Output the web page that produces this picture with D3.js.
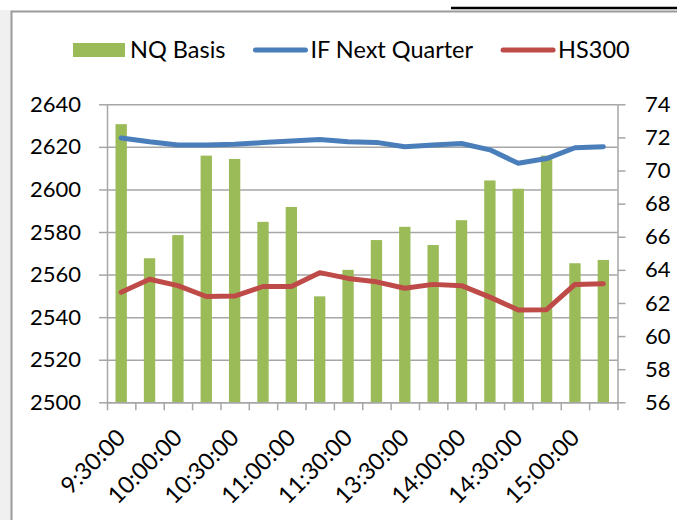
<!DOCTYPE html>
<meta charset="utf-8">
<style type="text/css">
    body { margin: 0; background: white; }
    svg text { font-family: Lato, "Open Sans", sans-serif; fill: black; }
    .grid line { stroke: #a6a6a6; stroke-width: 1.5; }
    .grid path { display: none; }
    .axis path, .axis line { stroke: #a6a6a6; stroke-width: 1.5; }
    .axis text { font-size: 22px; }
    .bar { fill: #9bbb59; }
</style>
<body>
<script src="https://cdn.jsdelivr.net/npm/d3@7"></script>
<script>
    // 15 minute snapshots, only every other one gets a label
    var times = ["9:30:00", "9:45:00", "10:00:00", "10:15:00", "10:30:00", "10:45:00",
                 "11:00:00", "11:15:00", "11:30:00", "13:15:00", "13:30:00", "13:45:00",
                 "14:00:00", "14:15:00", "14:30:00", "14:45:00", "15:00:00", "15:15:00"];

    var nqBasis = [72.8, 64.7, 66.1, 70.9, 70.7, 66.9, 67.8, 62.4, 64.0,
                   65.8, 66.6, 65.5, 67.0, 69.4, 68.9, 70.9, 64.4, 64.6];

    var ifNextQuarter = [2624.2, 2622.4, 2620.9, 2620.9, 2621.2, 2622.0, 2622.8, 2623.5, 2622.4,
                         2622.1, 2620.1, 2620.9, 2621.6, 2618.6, 2612.3, 2614.5, 2619.6, 2620.1];

    var hs300 = [2551.7, 2557.8, 2554.8, 2549.7, 2549.9, 2554.4, 2554.4, 2560.9, 2558.2,
                 2556.6, 2553.6, 2555.4, 2554.8, 2549.4, 2543.4, 2543.5, 2555.4, 2555.7];

    var leftTicks = [2500, 2520, 2540, 2560, 2580, 2600, 2620, 2640];
    var rightTicks = [56, 58, 60, 62, 64, 66, 68, 70, 72, 74];

    var seriesNames = ["NQ Basis", "IF Next Quarter", "HS300"];
    var seriesColors = ["#9bbb59", "#4a7ebb", "#be4b48"];

    var w = 677, h = 520;
    var plotLeft = 107, plotRight = 617.5, plotTop = 104.3, plotBottom = 402.3;

    var svg = d3.select("body").append("svg")
        .attr("width", w)
        .attr("height", h);

    // page bits around the chart frame
    svg.append("rect").attr("x", 0).attr("y", 10).attr("width", 11).attr("height", h).attr("fill", "#f0f0f0");
    svg.append("line").attr("x1", 451).attr("x2", w).attr("y1", 8).attr("y2", 8)
        .attr("stroke", "black").attr("stroke-width", 2.5);
    svg.append("path").attr("d", "M11.5," + h + "V11.5H" + w)
        .attr("fill", "none").attr("stroke", "#9a9a9a").attr("stroke-width", 2);

    var x = d3.scaleBand().domain(times).range([plotLeft, plotRight]).paddingInner(0.6).paddingOuter(0.3);
    var xIdx = d3.scaleLinear().domain([0, times.length]).range([plotLeft, plotRight]);
    var yL = d3.scaleLinear().domain([2500, 2640]).range([plotBottom, plotTop]);
    var yR = d3.scaleLinear().domain([56, 74]).range([plotBottom, plotTop]);

    function cx(i) { return x(times[i]) + x.bandwidth() / 2; }

    // gridlines
    svg.append("g").attr("class", "grid")
        .attr("transform", "translate(" + plotLeft + ",0)")
        .call(d3.axisLeft(yL).tickValues(leftTicks).tickSize(-(plotRight - plotLeft)).tickFormat(""));

    // bars (right axis)
    svg.selectAll("rect.bar")
        .data(nqBasis)
        .enter()
        .append("rect")
        .attr("class", "bar")
        .attr("x", function(d, i) { return x(times[i]); })
        .attr("y", function(d) { return yR(d); })
        .attr("width", x.bandwidth())
        .attr("height", function(d) { return plotBottom - yR(d); });

    // axes
    var la = svg.append("g").attr("class", "axis")
        .attr("transform", "translate(" + plotLeft + ",0)")
        .call(d3.axisLeft(yL).tickValues(leftTicks).tickFormat(d3.format("d"))
            .tickSize(8).tickPadding(18).tickSizeOuter(0));
    la.selectAll("text").attr("dy", "0.32em");

    var ra = svg.append("g").attr("class", "axis")
        .attr("transform", "translate(" + plotRight + ",0)")
        .call(d3.axisRight(yR).tickValues(rightTicks).tickSize(8).tickPadding(19.5).tickSizeOuter(0));
    ra.selectAll("text").attr("dy", "0.32em");

    svg.append("g").attr("class", "axis")
        .attr("transform", "translate(0," + plotBottom + ")")
        .call(d3.axisBottom(xIdx).tickValues(d3.range(times.length + 1)).tickSize(8).tickSizeOuter(0).tickFormat(""));

    var xa = svg.append("g").attr("class", "axis")
        .attr("transform", "translate(0," + plotBottom + ")")
        .call(d3.axisBottom(x).tickValues(times.filter(function(d, i) { return i % 2 == 0; })).tickSize(0).tickSizeOuter(0));
    xa.select(".domain").remove();
    xa.selectAll("text")
        .attr("x", 0).attr("y", 0).attr("dy", "0.35em")
        .style("font-size", "23.5px")
        .style("text-anchor", "end")
        .attr("transform", "translate(0,31) rotate(-45)");

    // lines (left axis)
    var line = d3.line()
        .x(function(d, i) { return cx(i); })
        .y(function(d) { return yL(d); });

    [ifNextQuarter, hs300].forEach(function(s, k) {
        svg.append("path")
            .datum(s)
            .attr("d", line)
            .attr("fill", "none")
            .attr("stroke", seriesColors[k + 1])
            .attr("stroke-width", 5)
            .attr("stroke-linejoin", "round")
            .attr("stroke-linecap", "round");
    });

    // legend
    var lx = 73;
    seriesNames.forEach(function(name, k) {
        var g = svg.append("g");
        if (k == 0) {
            g.append("rect").attr("x", lx).attr("y", 43).attr("width", 52).attr("height", 14)
                .attr("fill", seriesColors[k]);
        } else {
            g.append("line").attr("x1", lx + 2).attr("x2", lx + 52).attr("y1", 50).attr("y2", 50)
                .attr("stroke", seriesColors[k]).attr("stroke-width", 5).attr("stroke-linecap", "round");
        }
        var t = g.append("text").attr("x", lx + 57).attr("y", 57.5)
            .style("font-size", "23.5px").text(name);
        lx = lx + 57 + t.node().getComputedTextLength() + 28;
    });
</script>
</body>
